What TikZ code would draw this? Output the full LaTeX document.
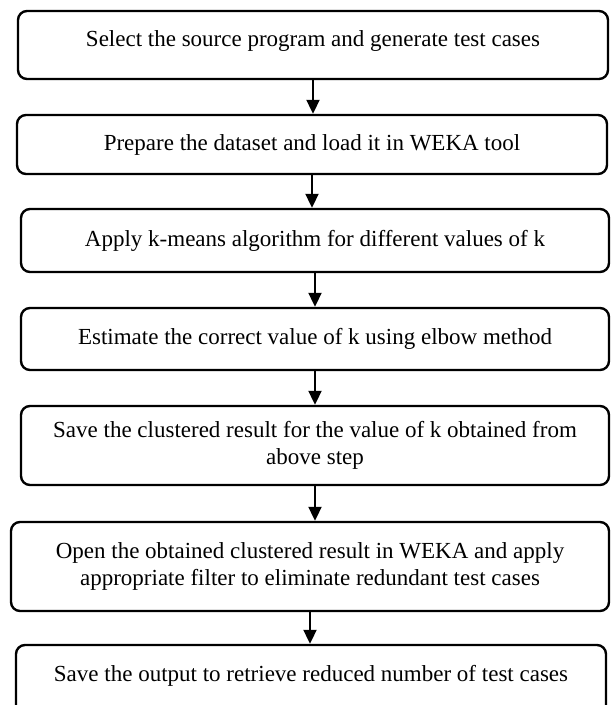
\documentclass[tikz,border=0pt]{standalone}
\usepackage{fontspec}
\setmainfont{Liberation Serif}
\usetikzlibrary{arrows.meta}
\tikzset{
	stepbox/.style={draw, line width=2.4pt, rounded corners=9pt, align=center,
		minimum width=590pt, inner sep=0pt, font=\fontsize{23}{26.5}\selectfont},
	flow/.style={line width=2pt, -{Triangle[length=14pt,width=13pt]}},
}
\newcommand{\myarrow}[2]{ \draw[flow] (#1.south) -- (#1.south |- #2.north);}

\begin{document}
\begin{tikzpicture}[x=1pt,y=-1pt]
    \clip (0,0) rectangle (616,705);
    \useasboundingbox (0,0) rectangle (616,705);
    % the steps, top to bottom
    \node[stepbox, minimum height=68pt, text depth=13pt] (s1) at (313,45) {Select the source program and generate test cases};
    \node[stepbox, minimum height=59pt] (s2) at (312,144.5) {Prepare the dataset and load it in WEKA tool};
    \node[stepbox, minimum height=63pt, minimum width=588pt] (s3) at (315,240.5) {Apply k-means algorithm for different values of k};
    \node[stepbox, minimum height=62pt, minimum width=588pt] (s4) at (315,339) {Estimate the correct value of k using elbow method};
    \node[stepbox, minimum height=79pt, minimum width=588pt] (s5) at (315,445.5) {Save the clustered result for the value of k obtained from\\above step};
    \node[stepbox, minimum height=89pt, minimum width=598pt] (s6) at (310,566.5) {Open the obtained clustered result in WEKA and apply\\appropriate filter to eliminate redundant test cases};
    \node[stepbox, minimum height=70pt, text depth=14pt] (s7) at (311,680) {Save the output to retrieve reduced number of test cases};

    \myarrow{s1}{s2}
    \myarrow{s2}{s3}
    \myarrow{s3}{s4}
    \myarrow{s4}{s5}
    \myarrow{s5}{s6}
    \myarrow{s6}{s7}
\end{tikzpicture}
\end{document}
